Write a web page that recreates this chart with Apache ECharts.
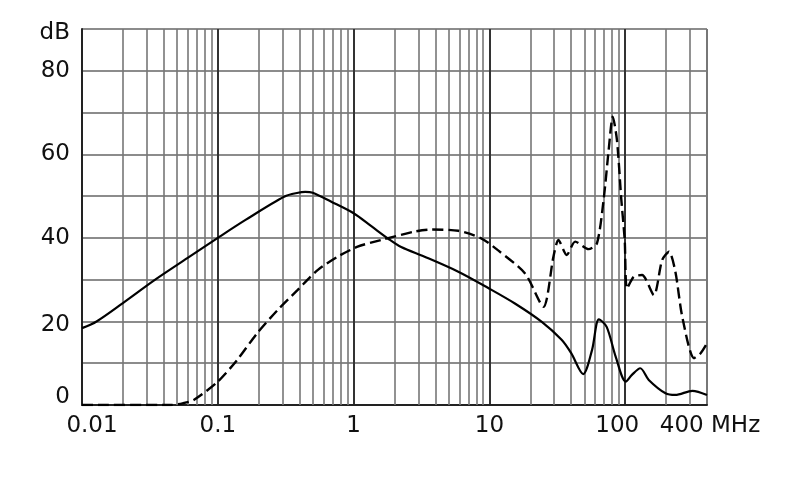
<!DOCTYPE html>
<html>
<head>
<meta charset="utf-8">
<script src="https://cdn.jsdelivr.net/npm/echarts@6/dist/echarts.min.js"></script>
<style>
html,body{margin:0;padding:0;background:#fff;}
#chart{width:790px;height:499px;}
</style>
</head>
<body>
<div id="chart"></div>
<script>
// Frequency (MHz) and level (dB)
const solidFreq = [0.01, 0.0128, 0.02, 0.0346, 0.06, 0.1, 0.16, 0.31, 0.39, 0.44, 0.5, 0.68, 1.0, 1.35, 1.8, 2.24, 3.33, 5.9, 9.8, 15.4, 24.3, 34, 40, 49, 57, 64, 73, 85, 101, 112, 129, 149, 198, 234, 312, 400];
const solidDb   = [18.4, 20.0, 24.4, 30.0, 35.2, 40.0, 44.3, 49.9, 50.8, 51.0, 50.8, 48.7, 45.9, 42.8, 39.8, 37.8, 35.5, 31.9, 28.0, 24.3, 19.9, 15.6, 12.4, 7.4, 13.2, 20.5, 18.7, 11.6, 5.6, 7.2, 8.8, 6.0, 2.8, 2.4, 3.4, 2.4];

const dashFreq = [0.01, 0.045, 0.055, 0.0665, 0.1, 0.139, 0.195, 0.275, 0.386, 0.543, 0.763, 1.07, 1.6, 2.8, 3.7, 5.9, 8.7, 11.6, 18.3, 25, 29.6, 32.2, 37.1, 42.8, 53.7, 61.9, 69.3, 75.5, 80.9, 86.9, 93.6, 99.1, 103, 115.6, 133, 162.5, 187, 210, 234, 263, 321, 359, 400];
const dashDb   = [0, 0, 0.4, 1.2, 5.6, 10.8, 17.2, 22.7, 27.5, 32.3, 35.5, 37.9, 39.5, 41.5, 42.0, 41.7, 39.9, 37.0, 31.5, 23.5, 35.5, 39.5, 35.9, 39.1, 37.3, 38.7, 49.1, 61.0, 69.0, 63.4, 49.1, 39.5, 27.9, 30.7, 31.1, 26.3, 34.7, 36.7, 31.9, 21.1, 11.2, 12.4, 14.8];

const xMin = 0.01, xMax = 400;
const yMin = 0, yMax = 90, yStep = 10;
const decades = [0.01, 0.1, 1, 10, 100];
const minorMultipliers = [2, 3, 4, 5, 6, 7, 8, 9];

const minorLines = [];
decades.forEach(d => minorMultipliers.forEach(m => {
  const v = +(d * m).toPrecision(3);
  if (v < xMax) minorLines.push({ xAxis: v });
}));

const pair = (xs, ys) => xs.map((x, i) => [x, ys[i]]);

const chart = echarts.init(document.getElementById('chart'));
const FONT = 'DejaVu Sans';
const FS = 23;
const txt = extra => Object.assign({ fontFamily: FONT, fontSize: FS, color: '#111' }, extra || {});
chart.setOption({
  animation: false,
  backgroundColor: '#fff',
  grid: { left: 82, right: 83, top: 29, bottom: 94, containLabel: false },
  xAxis: {
    type: 'log', logBase: 10, min: xMin, max: xMax,
    axisLine: { show: true, lineStyle: { color: '#222', width: 2 } },
    axisTick: { show: false },
    splitLine: { show: true, lineStyle: { color: ['#333', '#333', '#333', '#333', '#333', '#777'], width: 2 } },
    axisLabel: Object.assign(txt({ margin: 10 }), {
      formatter: v => {
        const n = Number((+v).toPrecision(3));
        if (n >= 300) return '{m|400 MHz}';
        if (n === 0.01) return '{a|0.01}';
        if (n === 100) return '{c|100}';
        return '{n|' + n + '}';
      },
      rich: {
        a: txt({ padding: [0, 0, 0, 20] }),
        c: txt({ padding: [0, 16, 0, 0] }),
        m: txt({ padding: [0, 0, 0, 6] }),
        n: txt()
      }
    })
  },
  yAxis: {
    type: 'value', min: yMin, max: yMax, interval: yStep,
    axisLine: { show: true, lineStyle: { color: '#222', width: 2 } },
    axisTick: { show: false },
    splitLine: { show: true, lineStyle: { color: '#666', width: 1.6 } },
    axisLabel: Object.assign(txt({ margin: 12 }), {
      formatter: v => {
        if (v === 90) return '{d|dB}';
        if (v === 0) return '{z|0}';
        if (v === 20) return '{t|20}';
        return v % 20 === 0 ? '{n|' + v + '}' : '';
      },
      rich: {
        d: txt({ padding: [8, 0, 0, 0] }),
        z: txt({ padding: [0, 0, 16, 0] }),
        t: txt({ padding: [8, 0, 0, 0] }),
        n: txt()
      }
    })
  },
  series: [
    {
      type: 'line', data: [], silent: true, z: 1,
      markLine: {
        silent: true, symbol: 'none', animation: false,
        label: { show: false },
        lineStyle: { color: '#777', width: 1.6, type: 'solid' },
        data: minorLines
      }
    },
    {
      name: 'solid', type: 'line', data: pair(solidFreq, solidDb), z: 5,
      showSymbol: false, smooth: 0.3,
      lineStyle: { color: '#000', width: 2.2 }
    },
    {
      name: 'dashed', type: 'line', data: pair(dashFreq, dashDb), z: 5,
      showSymbol: false, smooth: 0.25,
      lineStyle: { color: '#000', width: 2.4, type: [11, 5] }
    }
  ]
});
</script>
</body>
</html>
